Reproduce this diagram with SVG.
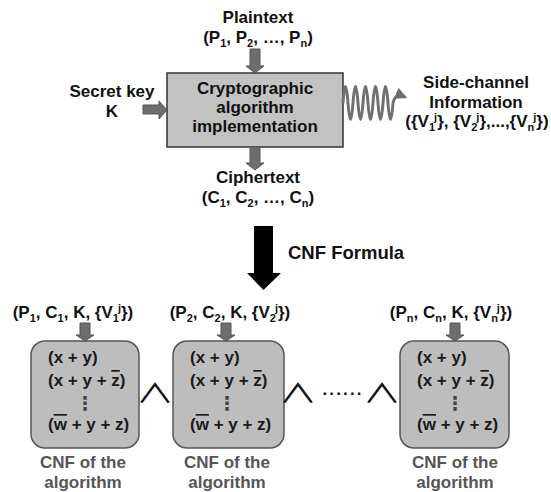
<svg xmlns="http://www.w3.org/2000/svg" width="551" height="492" viewBox="0 0 551 492">
<style>
text{font-family:"Liberation Sans",Arial,sans-serif;font-weight:bold;font-size:17px;fill:#111;text-anchor:middle}
.s{font-size:11px}
.cl{text-anchor:start;fill:#1a1a1a}
.cap{fill:#555}
.ov{text-decoration:overline}
.and{font-family:"Noto Sans CJK JP","DejaVu Sans",sans-serif;font-weight:normal;font-size:34px;fill:#111}
.dots{font-family:"DejaVu Sans",sans-serif;font-weight:bold;font-size:19px;fill:#444}
.garrow{fill:#6e6e6e;stroke:#555;stroke-width:1}
.cnfbox{fill:#bdbdbd;stroke:#555;stroke-width:1.5}
</style>
<defs>
<marker id="wh" viewBox="0 0 10 10" refX="8" refY="5" markerWidth="4" markerHeight="4" orient="auto">
<path d="M0,0 L10,5 L0,10 z" fill="#6e6e6e"/>
</marker>
</defs>

<g id="plaintext">
<text x="258" y="23">Plaintext</text>
<text x="258" y="43">(P<tspan class="s" dy="4">1</tspan><tspan dy="-4">, P</tspan><tspan class="s" dy="4">2</tspan><tspan dy="-4">, …, P</tspan><tspan class="s" dy="4">n</tspan><tspan dy="-4">)</tspan></text>
</g>

<g id="secretkey">
<text x="112" y="97">Secret key</text>
<text x="112" y="117">K</text>
</g>

<g id="algorithm">
<rect x="167" y="73" width="176" height="74" fill="#c2c2c2" stroke="#333" stroke-width="1.5"/>
<text x="255" y="94">Cryptographic</text>
<text x="255" y="113">algorithm</text>
<text x="255" y="132">implementation</text>
</g>

<g id="sidechannel">
<text x="476" y="88">Side-channel</text>
<text x="476" y="108">Information</text>
<text x="477" y="127">({V<tspan class="s" dy="4">1</tspan><tspan class="s" dx="-1" dy="-10">j</tspan><tspan dy="6">}, {V</tspan><tspan class="s" dy="4">2</tspan><tspan class="s" dx="-1" dy="-10">j</tspan><tspan dy="6">},...,{V</tspan><tspan class="s" dy="4">n</tspan><tspan class="s" dx="-1" dy="-10">j</tspan><tspan dy="6">})</tspan></text>
</g>

<g id="ciphertext">
<text x="258" y="183">Ciphertext</text>
<text x="258" y="203">(C<tspan class="s" dy="4">1</tspan><tspan dy="-4">, C</tspan><tspan class="s" dy="4">2</tspan><tspan dy="-4">, …, C</tspan><tspan class="s" dy="4">n</tspan><tspan dy="-4">)</tspan></text>
</g>

<g id="cnfformula">
<text x="288" y="259" style="text-anchor:start;font-size:18.5px">CNF Formula</text>
</g>

<g id="cnf1">
<text x="73" y="318">(P<tspan class="s" dy="4">1</tspan><tspan dy="-4">, C</tspan><tspan class="s" dy="4">1</tspan><tspan dy="-4">, K, {V</tspan><tspan class="s" dy="4">1</tspan><tspan class="s" dx="-1" dy="-10">j</tspan><tspan dy="6">})</tspan></text>
<rect class="cnfbox" x="31" y="341" width="108" height="107" rx="14"/>
<text class="cl" x="48" y="363">(x + y)</text>
<text class="cl" x="48" y="386">(x + y + <tspan class="ov">z</tspan>)</text>
<text class="dots" x="85" y="410">⋮</text>
<text class="cl" x="48" y="430">(<tspan class="ov">w</tspan> + y + z)</text>
<text class="cap" x="83" y="468">CNF of the</text>
<text class="cap" x="83" y="488">algorithm</text>
</g>

<g id="cnf2">
<text x="230" y="318">(P<tspan class="s" dy="4">2</tspan><tspan dy="-4">, C</tspan><tspan class="s" dy="4">2</tspan><tspan dy="-4">, K, {V</tspan><tspan class="s" dy="4">2</tspan><tspan class="s" dx="-1" dy="-10">j</tspan><tspan dy="6">})</tspan></text>
<rect class="cnfbox" x="173" y="341" width="111" height="107" rx="14"/>
<text class="cl" x="190" y="363">(x + y)</text>
<text class="cl" x="190" y="386">(x + y + <tspan class="ov">z</tspan>)</text>
<text class="dots" x="227" y="410">⋮</text>
<text class="cl" x="190" y="430">(<tspan class="ov">w</tspan> + y + z)</text>
<text class="cap" x="227" y="468">CNF of the</text>
<text class="cap" x="227" y="488">algorithm</text>
</g>

<g id="cnfn">
<text x="451" y="318">(P<tspan class="s" dy="4">n</tspan><tspan dy="-4">, C</tspan><tspan class="s" dy="4">n</tspan><tspan dy="-4">, K, {V</tspan><tspan class="s" dy="4">n</tspan><tspan class="s" dx="-1" dy="-10">j</tspan><tspan dy="6">})</tspan></text>
<rect class="cnfbox" x="400" y="341" width="109" height="107" rx="14"/>
<text class="cl" x="417" y="363">(x + y)</text>
<text class="cl" x="417" y="386">(x + y + <tspan class="ov">z</tspan>)</text>
<text class="dots" x="455" y="410">⋮</text>
<text class="cl" x="417" y="430">(<tspan class="ov">w</tspan> + y + z)</text>
<text class="cap" x="455" y="468">CNF of the</text>
<text class="cap" x="455" y="488">algorithm</text>
</g>

<g id="operators">
<text class="and" transform="translate(155,403) scale(1.13,0.78)">∧</text>
<text class="and" transform="translate(298,403) scale(1.13,0.78)">∧</text>
<text x="342" y="395" textLength="39" lengthAdjust="spacing">......</text>
<text class="and" transform="translate(382,403) scale(1.13,0.78)">∧</text>
</g>

<g id="connectors">
<polygon class="garrow" points="250,49 260,49 260,66 264,66 255,73 246,66 250,66"/>
<polygon class="garrow" points="143,105 159,105 159,101 167,110 159,119 159,114 143,114"/>
<polygon class="garrow" points="250,147 260,147 260,163 264,163 255,170 246,163 250,163"/>
<path d="M343,103 Q345.5,70 348,103 T353,103 T358,103 T363,103 T368,103 T373,103 T378,103 T383,103 T388,103 T393,103 C394.5,96 398,94 405,97" fill="none" stroke="#707070" stroke-width="3" marker-end="url(#wh)"/>
<polygon points="254,226 273,226 273,273 281,273 263.5,290 247,273 254,273" fill="#000"/>
<polygon class="garrow" points="80,323 90,323 90,335 94,335 85,341 76,335 80,335"/>
<polygon class="garrow" points="221,323 231,323 231,335 235,335 226,341 217,335 221,335"/>
<polygon class="garrow" points="450,323 460,323 460,335 464,335 455,341 446,335 450,335"/>
</g>
</svg>
